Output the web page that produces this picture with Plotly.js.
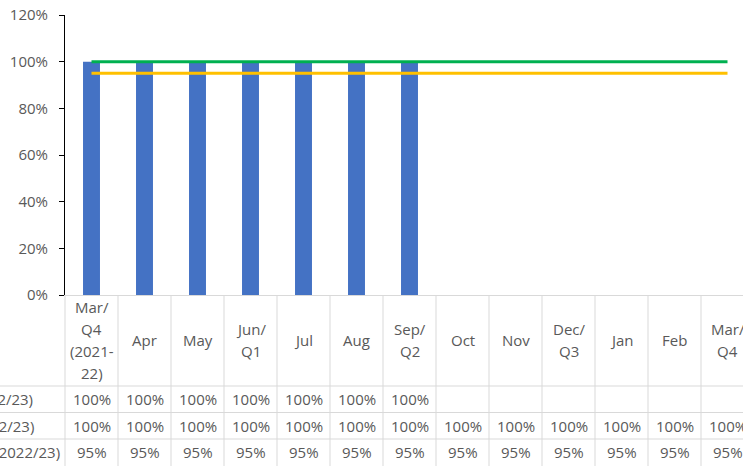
<!DOCTYPE html>
<html>
<head>
<meta charset="utf-8">
<script src="https://cdn.plot.ly/plotly-3.0.1.min.js"></script>
<style>
html,body{margin:0;padding:0;overflow:hidden;background:#fff;width:743px;height:466px;}
#chart{position:absolute;left:-100px;top:0;width:900px;height:466px;}
</style>
</head>
<body>
<div id="chart"></div>
<script>
// ---- data ----
const categories = ["Mar/<br>Q4<br>(2021-<br>22)", "Apr", "May", "Jun/<br>Q1", "Jul", "Aug", "Sep/<br>Q2", "Oct", "Nov", "Dec/<br>Q3", "Jan", "Feb", "Mar/<br>Q4"];
const actual = [1.00, 1.00, 1.00, 1.00, 1.00, 1.00, 1.00, null, null, null, null, null, null];
const target = [1.00, 1.00, 1.00, 1.00, 1.00, 1.00, 1.00, 1.00, 1.00, 1.00, 1.00, 1.00, 1.00];
const threshold = [0.95, 0.95, 0.95, 0.95, 0.95, 0.95, 0.95, 0.95, 0.95, 0.95, 0.95, 0.95, 0.95];
const seriesNames = ["Actual (2022/23)", "Target (2022/23)", "Threshold (2022/23)"];
const yTickVals = [0, 0.2, 0.4, 0.6, 0.8, 1.0, 1.2];

// ---- layout helpers (pixel geometry of the Excel-like chart) ----
const W = 900, H = 466, offsetLeft = 100;
const plotLeft = 165, plotWidth = 689, plotTop = 15, plotBottom = 295;
const plotHeight = plotBottom - plotTop;
const n = categories.length;
const py = Y => (plotBottom - Y) / plotHeight;            // page y -> paper y
const px = X => (X + offsetLeft - plotLeft) / plotWidth;  // page x -> paper x
const catEdge = k => k / n;                                // category boundary -> paper x

const gridColor = '#D9D9D9';
const textColor = '#595959';
const font = {family: '"Open Sans", "Noto Sans", sans-serif', size: 15, color: textColor};

const traces = [
  {type: 'bar', x: categories, y: actual, marker: {color: '#4472C4'}, hoverinfo: 'skip'},
  {type: 'scatter', mode: 'lines', x: categories, y: target, line: {color: '#00B050', width: 3}, hoverinfo: 'skip'},
  {type: 'scatter', mode: 'lines', x: categories, y: threshold, line: {color: '#FFC000', width: 3}, hoverinfo: 'skip'}
];

const shapes = [];
const annotations = [];

// vertical table lines
for (let k = 0; k <= n; k++) {
  shapes.push({type: 'line', xref: 'paper', yref: 'paper', x0: catEdge(k), x1: catEdge(k),
    y0: py(plotBottom), y1: py(H + 10), line: {color: gridColor, width: 1}});
}
// horizontal table lines
const rowLines = [386, 412.5, 439];
rowLines.forEach(Y => {
  shapes.push({type: 'line', xref: 'paper', yref: 'paper', x0: px(-offsetLeft), x1: 1,
    y0: py(Y), y1: py(Y), line: {color: gridColor, width: 1}});
});

// header (category) labels, one annotation per line with Excel-like line spacing
const headerCenter = 340, lineGap = 22;
categories.forEach((c) => {
  const lines = c.split('<br>');
  lines.forEach((t, j) => {
    const Y = headerCenter + (j - (lines.length - 1) / 2) * lineGap;
    annotations.push({xref: 'x', yref: 'paper', x: c, y: py(Y), text: t, showarrow: false,
      xanchor: 'center', yanchor: 'middle', font: font});
  });
});

// data rows
const rows = [actual, target, threshold];
const rowYs = [399, 425.5, 452];
rows.forEach((vals, r) => {
  vals.forEach((v, i) => {
    if (v === null) return;
    annotations.push({xref: 'x', yref: 'paper', x: categories[i], y: py(rowYs[r]),
      text: Math.round(v * 100) + '%', showarrow: false, xanchor: 'center', yanchor: 'middle', font: font});
  });
  annotations.push({xref: 'paper', yref: 'paper', x: px(-82), y: py(rowYs[r]), text: seriesNames[r],
    showarrow: false, xanchor: 'left', yanchor: 'middle', font: font});
});

const layout = {
  width: W, height: H,
  margin: {l: plotLeft, r: W - plotLeft - plotWidth, t: plotTop, b: H - plotBottom, pad: 0},
  paper_bgcolor: '#fff', plot_bgcolor: '#fff',
  showlegend: false,
  bargap: 0.68,
  font: font,
  xaxis: {type: 'category', showticklabels: false, ticks: '', showgrid: false, zeroline: false,
    showline: true, linecolor: gridColor, linewidth: 1, fixedrange: true},
  yaxis: {range: [0, 1.2], tickvals: yTickVals, tickformat: '.0%', ticks: 'outside', ticklen: 5,
    tickcolor: '#000', showline: true, linecolor: '#000', linewidth: 1, showgrid: false, zeroline: false,
    tickfont: font, ticklabelstandoff: 8, fixedrange: true},
  shapes: shapes,
  annotations: annotations
};

Plotly.newPlot('chart', traces, layout, {displayModeBar: false, staticPlot: true});
</script>
</body>
</html>
